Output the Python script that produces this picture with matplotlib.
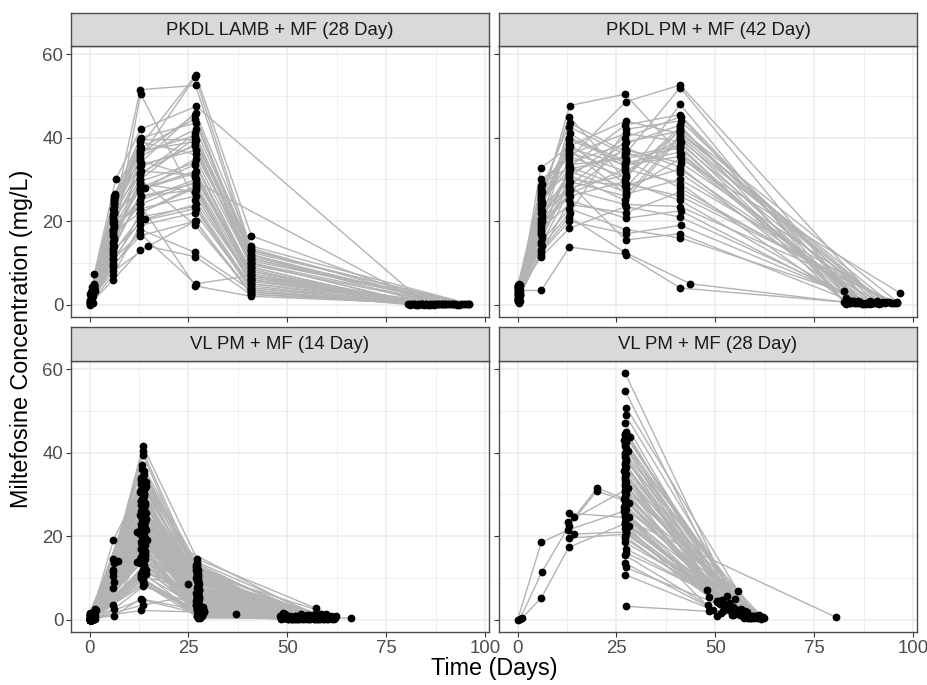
import matplotlib
matplotlib.use('Agg')
import matplotlib.pyplot as plt

plt.rcParams['font.family'] = ['Liberation Sans', 'DejaVu Sans']

N = None

panel_titles = ['PKDL LAMB + MF (28 Day)', 'PKDL PM + MF (42 Day)',
                'VL PM + MF (14 Day)', 'VL PM + MF (28 Day)']
x_ticks = [0, 25, 50, 75, 100]
y_ticks = [0, 20, 40, 60]
x_label = 'Time (Days)'
y_label = 'Miltefosine Concentration (mg/L)'

# ---- PKDL LAMB + MF (28 Day): one row per patient, visits ~0, 6, 13, 27, 41, end
lamb_time = [
    [0.2, 6.0, 12.8, 26.7, 40.8, 84], [0.4, 6.1, 12.8, 26.8, 40.9, 86],
    [0.6, 6.0, 12.9, 26.7, 40.8, 82], [1.0, 6.2, 12.8, 26.9, 40.9, 88],
    [0.8, 5.9, 12.7, 26.7, 40.8, 90], [1.2, 6.6, 12.9, 27.0, N, 85],
    [0.3, 6.0, 12.8, 26.8, 40.9, 81], [0.9, 6.1, 12.7, 26.7, 40.8, 92],
    [0.5, 6.0, 12.8, 26.8, 40.7, 83], [0.0, 6.0, 12.8, 26.7, 40.8, 87],
    [1.1, 6.2, 12.9, 26.8, 40.9, 94], [0.6, 6.0, 12.8, 26.7, 40.8, 81.5],
    [0.2, 6.1, 13.9, 26.8, 40.9, 89], [0.8, 6.0, 12.8, 26.7, 40.8, 95],
    [0.3, 5.9, 12.8, 26.7, 40.8, 82.5], [0.9, 6.0, 12.9, 26.8, 40.8, 86.5],
    [0.5, 6.1, 12.8, 26.7, 40.9, 91], [0.7, 6.0, 13.9, 26.8, 40.8, 83.5],
    [1.3, 6.2, 12.8, 26.7, 40.8, 88.5], [0.1, 6.0, 12.8, 26.8, 40.9, 84.5],
    [0.6, 6.1, 12.8, 26.7, 40.8, 93], [1.0, 6.3, 12.9, 26.8, 40.9, 96],
    [0.4, 6.0, 14.7, 26.7, 40.8, 85.5], [0.8, 6.1, 12.8, 26.8, 40.8, 90.5],
    [0.2, 6.0, 12.8, 26.7, 40.9, 87.5], [1.2, 6.1, 12.8, 26.8, 40.8, 92.5],
    [0.5, 6.0, 12.9, 26.7, 40.8, 80.5], [0.9, 6.0, 12.8, 26.8, 40.9, 89.5],
    [0.3, 6.1, 12.8, 26.7, 40.8, 86], [0.7, 6.0, 12.8, 26.8, 40.8, 94.5],
    [0.0, 5.9, 12.8, 26.7, 40.9, 83], [1.0, 6.1, 12.9, 26.8, 40.8, 91.5],
    [0.6, 6.0, 12.8, 26.7, 40.8, 84], [0.4, 6.1, 12.8, 26.8, N, 85],
    [1.1, 6.2, 12.8, 26.7, 40.9, 96], [0.2, 6.0, 12.9, 26.8, 40.8, 88],
    [0.8, 6.1, 12.8, 26.7, 40.8, 82], [0.5, 6.0, 12.8, 26.8, 40.9, 90],
    [0.9, 6.0, 12.8, 26.7, 40.8, 87], [0.3, 5.9, 12.8, 26.8, 40.8, 93.5],
    [0.7, 6.1, 12.9, 26.7, 40.9, 95.5], [0.4, 6.0, 12.8, 26.8, 40.8, 81],
    [1.0, 6.1, 12.8, 26.7, 40.8, 89], [0.6, 6.3, 12.8, 26.8, 40.9, 84],
    [0.1, 6.0, 12.8, 26.7, 40.8, 92],
]
lamb_conc = [
    [2.5, 20, 30, 40, 10, 0.1], [3.0, 22, 51.5, 52.5, 12, 0.2],
    [1.0, 15, 50.5, 25, 6, 0.1], [4.0, 25, 38, 55, 16.5, 0.2],
    [0.5, 12, 35, 54.5, 13.5, 0.1], [7.4, 30, 42, 47.5, N, 0.1],
    [2.0, 18, 25, 30, 8, 0.1], [3.5, 24, 36, 45.5, 11, 0.2],
    [1.5, 10, 22, 28, 5, 0.1], [0.0, 6, 13, 20, 3, 0.0],
    [4.5, 26, 40, 43.5, 13, 0.2], [2.8, 21, 33, 38, 9, 0.1],
    [1.2, 14, 28, 32, 7, 0.1], [3.8, 23, 31, 41, 10.5, 0.2],
    [0.8, 9, 18, 12.5, 3.5, 0.0], [2.2, 17, 26, 29, 6.5, 0.1],
    [4.2, 25.5, 37, 39, 12, 0.2], [1.8, 13, 20.5, 24, 4.5, 0.1],
    [3.3, 19, 29, 27, 6, 0.1], [0.3, 11, 17, 5, 7, 0.0],
    [2.6, 16, 24, 4.5, 2, 0.0], [5.0, 26, 34, 46, 14, 0.2],
    [1.4, 8, 14, 11.5, 2.5, 0.0], [3.1, 22.5, 27, 35, 9.5, 0.1],
    [0.6, 12.5, 21, 23.5, 4, 0.1], [4.8, 24.5, 39, 36, 11.5, 0.2],
    [2.1, 19.5, 32, 31, 8.5, 0.1], [3.6, 20.5, 23, 26, 5.5, 0.1],
    [1.1, 15.5, 30, 19, 3, 0.0], [2.9, 21.5, 35.5, 42, 13, 0.2],
    [0.2, 7, 19, 22, 4, 0.0], [3.9, 23.5, 33.5, 37, 10, 0.1],
    [1.6, 16.5, 28, 33.5, 7.5, 0.1], [2.4, 18.5, 24, 29.5, N, 0.1],
    [4.4, 25, 36.5, 40.5, 12.5, 0.2], [0.9, 13.5, 26, 27.5, 6, 0.1],
    [3.2, 20, 31.5, 38.5, 9, 0.1], [1.9, 17.5, 22, 28.5, 5, 0.1],
    [2.7, 14.5, 29.5, 34, 8, 0.1], [0.4, 9.5, 16.5, 20, 2.5, 0.0],
    [3.4, 22, 37.5, 44.5, 11, 0.2], [1.3, 11, 20, 23, 3.5, 0.0],
    [4.1, 24, 34.5, 30.5, 7, 0.1], [2.3, 26.5, 39.5, 39.5, 10, 0.1],
    [0.7, 18, 27.5, 31.5, 6.5, 0.1],
]

# ---- PKDL PM + MF (42 Day)
pm42_time = [
    [0.3, 6.0, 13.1, 27.4, 41.1, 84], [0.1, 5.9, 13.2, 27.2, 41.2, 88],
    [0.4, 6.0, 13.1, 27.3, 41.1, 91], [0.2, 6.1, 13.0, 27.2, 41.1, 86],
    [0.5, 5.9, 13.2, 27.3, 41.0, 94], [0.0, 6.0, 13.1, 27.2, 41.1, 83],
    [0.3, 6.1, 13.2, 27.4, 41.2, 89], [0.4, 5.9, 13.1, 27.2, 41.1, 82.6],
    [0.1, 6.0, 13.0, 27.3, 41.0, 92], [0.5, 6.0, 13.1, 27.2, 41.1, 85],
    [0.2, 6.1, 13.2, 27.3, 41.1, 96], [0.3, 5.8, 13.1, 27.4, 41.2, 87],
    [0.0, 6.0, 13.0, 27.2, 41.1, 90], [0.4, 6.1, 13.1, 27.3, 41.0, 83.5],
    [0.2, 5.9, 13.2, 27.2, 41.1, 93], [0.5, 6.0, 13.1, 27.3, 41.1, 88.5],
    [0.1, 6.1, 13.0, 27.2, 41.2, 84.5], [0.3, 5.9, 13.1, 27.4, 41.1, 95],
    [0.4, 6.0, 13.2, 27.2, 41.0, 86.5], [0.2, 6.0, 13.1, 27.3, 41.1, 91.5],
    [0.0, 6.1, 13.0, 27.2, 41.1, 82.8], [0.3, 5.9, 13.1, 27.3, 41.2, 96.7],
    [0.5, 6.0, 13.2, 27.4, 41.1, 89.5], [0.1, 6.0, 13.1, 27.2, 43.7, 85.5],
    [0.4, 6.1, 13.0, 27.3, 41.0, 92.5], [0.2, 5.9, 13.1, 27.2, 41.1, 87.5],
    [0.3, 6.0, 13.2, 27.3, 41.1, 94.5], [0.0, 6.0, 13.1, 27.4, 41.2, 83],
    [0.4, 6.1, 13.0, 27.2, 41.1, 90.5], [0.2, 5.9, 13.1, 27.3, 41.0, 85],
    [0.5, 6.0, 13.2, 27.2, 41.1, 96], [0.1, 6.0, 13.1, 27.3, 41.1, 88],
    [0.3, 6.1, 13.0, 27.4, 41.2, 93.5], [0.4, 5.9, 13.1, 27.2, 41.1, 84],
    [0.2, 6.0, 13.2, 27.3, 41.0, 91], [0.0, 6.0, 13.1, 27.2, 41.1, 86],
    [0.3, 6.1, 13.0, 27.3, 41.1, 95.5], [0.5, 5.9, 13.1, 27.4, 41.2, 89],
    [0.1, 6.0, 13.2, 27.2, 41.1, 82.5], [0.4, 6.0, 13.1, 27.3, 41.0, 92],
    [0.2, 6.1, 13.0, 27.2, 41.1, 87],
]
pm42_conc = [
    [3.4, 3.4, 13.8, 12.0, 4.0, 0.5], [2.0, 24.0, 47.7, 50.4, 36.0, 0.3],
    [1.5, 30.0, 35.0, 48.6, 52.6, 0.8], [4.5, 20.0, 42.6, 36.0, 52.0, 0.4],
    [2.8, 32.7, 38.0, 44.0, 41.0, 0.6], [1.0, 26.0, 45.0, 30.0, 48.0, 0.2],
    [3.0, 14.0, 22.0, 42.0, 44.0, 1.0], [5.0, 27.0, 31.0, 25.0, 40.0, 3.2],
    [2.2, 18.0, 40.0, 34.5, 28.0, 0.3], [0.8, 22.0, 27.0, 37.5, 33.0, 0.5],
    [3.8, 29.0, 33.0, 28.0, 42.0, 0.7], [1.8, 12.0, 25.0, 20.7, 22.5, 0.2],
    [4.2, 25.0, 36.5, 32.0, 38.5, 0.4], [2.5, 16.0, 29.0, 15.5, 17.0, 1.2],
    [1.2, 23.0, 41.0, 33.0, 39.5, 0.3], [3.6, 11.5, 18.3, 23.5, 21.0, 0.4],
    [0.9, 21.0, 30.5, 40.0, 45.0, 0.9], [2.9, 28.0, 37.0, 26.5, 30.0, 0.3],
    [4.0, 19.0, 26.0, 29.5, 25.0, 0.6], [1.6, 15.0, 23.0, 18.0, 16.0, 0.2],
    [3.2, 24.5, 34.0, 38.5, 43.0, 0.5], [2.1, 17.5, 32.0, 27.0, 35.0, 2.8],
    [4.8, 27.5, 43.5, 36.5, 31.5, 0.4], [1.3, 13.0, 21.0, 12.5, 5.0, 0.3],
    [3.5, 22.5, 28.0, 31.0, 41.5, 0.7], [2.6, 20.5, 39.5, 34.0, 36.5, 0.2],
    [0.5, 18.5, 24.0, 22.0, 27.0, 0.5], [4.4, 26.5, 36.0, 41.0, 39.0, 1.5],
    [1.9, 16.5, 30.0, 28.5, 32.5, 0.3], [3.1, 25.5, 33.5, 35.0, 37.5, 0.8],
    [2.4, 14.5, 27.5, 24.0, 23.5, 0.4], [4.6, 28.5, 35.5, 30.5, 42.5, 0.2],
    [1.1, 21.5, 31.5, 37.0, 34.0, 0.6], [3.3, 19.5, 26.5, 32.5, 29.0, 0.3],
    [2.7, 23.5, 29.5, 26.0, 40.5, 0.5], [1.4, 17.0, 33.0, 43.0, 45.5, 1.0],
    [3.9, 27.0, 38.5, 29.0, 26.0, 0.4], [2.3, 12.5, 20.0, 17.0, 19.0, 0.2],
    [4.1, 25.0, 32.5, 35.5, 38.0, 0.7], [0.7, 20.0, 28.5, 39.0, 41.5, 0.3],
    [3.7, 24.0, 37.5, 33.5, 35.5, 0.5],
]

# ---- VL PM + MF (14 Day): visits ~0, 6, 13, 27, follow-up
vl14_time = [
    [0.2, 6.0, 13.3, 27.0, 52], [1.2, 6.0, 13.5, 27.2, 57.3],
    [0.5, 6.1, 13.4, 27.3, 49], [0.0, 5.9, 13.5, 27.1, 55],
    [0.8, 6.0, 13.0, 27.4, 58], [1.4, 6.1, 12.0, 25.0, 50],
    [0.3, 6.0, 13.2, 27.6, 53], [0.1, 6.0, 12.0, 27.2, 60],
    [0.6, 6.1, 13.6, 28.8, 48.5], [0.0, 6.2, 13.0, 28.6, 51],
    [1.0, 7.2, 13.8, 27.0, 54], [0.4, 6.0, 13.4, 27.5, 56],
    [0.2, N, 13.2, 27.0, 49.5], [1.1, N, 13.6, 27.3, 55.5],
    [0.5, N, 13.0, 27.1, 58.5], [0.0, N, 14.2, 27.4, 50.5],
    [1.3, N, 13.4, 27.2, 61], [0.7, N, 12.8, 27.5, 52.5],
    [0.0, N, 13.8, 27.1, 56.5], [1.0, N, 13.3, 27.3, 48.2],
    [0.3, N, 14.0, 27.2, 59.5], [0.9, N, 13.1, 27.6, 53.5],
    [0.0, N, 13.7, 27.0, 57], [1.2, N, 12.9, 27.4, 50],
    [0.4, N, 14.3, 27.2, 62], [0.0, N, 13.5, 27.3, 54.5],
    [0.8, N, 13.2, 27.1, 49], [0.5, N, 13.9, 27.5, 58],
    [0.0, N, 13.0, 28.7, 51.5], [1.4, N, 13.6, 27.2, 55],
    [0.6, N, 14.1, 27.3, 60.5], [0.1, N, 13.3, 28.9, 52],
    [1.0, N, 12.7, 27.4, 56], [0.0, N, 13.8, 27.1, 48.8],
    [0.5, N, 13.4, N, 59], [1.3, N, 14.4, 27.5, 53],
    [0.2, N, 13.1, 27.2, 57.5], [0.0, N, 13.6, N, 50.2],
    [0.9, N, 12.9, 27.3, 61.5], [0.3, N, 14.0, 27.6, 54],
    [0.0, N, 13.5, N, 58.2], [1.1, N, 13.2, 27.2, 49.8],
    [0.4, N, 13.9, 27.4, 55.8], [0.0, N, 12.8, N, 60.2],
    [0.7, N, 13.7, 27.1, 52.8], [0.1, N, 13.3, 27.8, 57.8],
    [1.2, N, 14.2, N, 51.2], [0.0, N, 13.0, 27.3, 56.2],
    [0.6, N, 13.6, 27.5, 48.4], [0.0, N, 13.4, 27.3, 59.8],
    [0.4, N, 13.1, 28.9, 53.8], [1.0, N, 13.8, 27.2, 62.2],
    [0.0, N, 13.4, 27.1, 50.8], [0.3, N, 13.0, 27.4, 55.2],
    [1.5, N, 14.1, 27.2, 58.8], [0.2, N, 13.5, 27.3, 52.2],
    [0.0, N, 12.9, 27.1, 57.2], [0.8, N, 13.7, 27.5, 49.2],
    [0.5, N, 13.2, 27.2, 60.8], [0.0, N, 14.3, 27.4, 54.8],
    [1.2, N, 13.6, 27.1, 51.8], [0.2, N, 13.0, 28.4, 56.8],
    [0.0, N, 13.9, 27.3, 48.6], [0.7, N, 13.3, N, 59.2],
    [0.4, N, 14.0, 27.6, 53.2], [0.0, N, 12.7, N, 61.2],
    [1.0, N, 13.5, 37.0, 50.6], [0.2, N, 13.1, N, 55.6],
    [0.0, N, 13.8, 27.5, 66.0], [0.6, N, 13.4, 27.2, 58.6],
    [0.0, N, 13.2, 28.5, 52.6],
    [0.3, N, 13.3, 27.1, 53.4], [0.9, N, 13.7, 27.4, 57.4],
    [0.1, N, 13.1, 27.2, 50.4], [1.3, N, 14.2, 27.0, 55.4],
    [0.5, N, 13.5, 27.5, 59.4], [0.0, N, 12.9, 27.3, 52.4],
    [0.8, N, 13.8, 27.1, 56.4], [0.2, N, 13.4, 27.6, 61.4],
    [1.1, N, 13.0, 27.2, 49.4], [0.4, N, 14.1, 27.4, 54.4],
    [0.0, N, 13.6, 27.0, 58.4], [0.7, N, 13.2, 27.3, 51.4],
    [1.2, N, 13.9, 27.5, 56.9], [0.3, N, 12.8, 27.1, 60.4],
    [0.0, N, 13.5, 27.4, 53.9], [0.9, N, 14.0, 27.2, 48.9],
    [0.5, N, 13.3, 27.6, 57.9], [0.1, N, 13.7, 27.0, 52.9],
    [1.4, N, 13.0, 27.3, 55.9], [0.2, N, 14.3, 28.6, 59.9],
    [0.6, N, 13.4, 27.1, 50.9], [0.0, N, 12.9, 27.5, 54.9],
    [1.0, N, 13.8, 27.2, 61.9], [0.4, N, 13.2, 27.4, 49.9],
    [0.0, N, 13.6, 28.8, 58.9], [0.8, N, 14.1, 27.1, 53.1],
    [0.3, N, 13.0, 27.3, 57.1], [1.2, N, 13.5, 27.6, 51.1],
    [0.0, N, 13.9, 27.2, 55.1], [0.6, N, 13.3, 27.0, 60.1],
    [0.1, N, 12.7, 27.4, 48.7], [1.1, N, 13.7, 27.2, 56.1],
    [0.4, N, 14.2, 28.3, 52.1], [0.0, N, 13.1, 27.5, 58.1],
    [0.9, N, 13.6, 27.1, 54.1], [0.2, N, 13.4, 27.3, 61.1],
    [0.5, N, 13.8, 28.0, 50.1], [0.0, N, 13.2, N, 57.6],
    [0.7, N, 13.5, N, 53.6], [0.3, N, 13.0, N, 59.6],
]
vl14_conc = [
    [0.0, 19.0, 33.0, 12.5, 1.0], [1.5, 14.5, 41.5, 14.5, 2.7],
    [0.5, 13.5, 40.5, 11.0, 1.5], [0.2, 12.0, 39.5, 10.0, 1.2],
    [1.0, 10.5, 25.0, 9.0, 0.8], [2.5, 9.0, 21.0, 8.5, 0.6],
    [0.3, 7.5, 18.0, 7.0, 0.5], [0.0, 3.5, 13.8, 5.0, 0.4],
    [0.8, 2.5, 8.0, 3.0, 0.3], [0.1, 1.0, 5.0, 2.0, 0.2],
    [1.8, 14.0, 30.0, 6.5, 1.0], [0.6, 11.5, 27.0, 4.0, 0.7],
    [0.0, N, 36.0, 12.0, 1.3], [1.2, N, 34.0, 10.5, 0.9],
    [0.4, N, 33.5, 9.5, 1.1], [0.0, N, 32.0, 8.0, 0.5],
    [2.0, N, 31.0, 7.5, 0.8], [0.7, N, 30.5, 6.0, 0.6],
    [0.0, N, 29.5, 6.0, 0.4], [1.4, N, 29.0, 5.5, 0.9],
    [0.2, N, 28.0, 3.5, 0.3], [0.9, N, 27.5, 5.0, 0.7],
    [0.0, N, 26.5, 4.5, 0.2], [1.6, N, 26.0, 9.0, 1.0],
    [0.3, N, 25.5, 2.5, 0.5], [0.0, N, 24.5, 4.0, 0.3],
    [1.1, N, 24.0, 3.5, 0.6], [0.5, N, 23.5, 8.0, 0.8],
    [0.0, N, 23.0, 1.5, 0.1], [2.2, N, 22.5, 3.0, 0.4],
    [0.8, N, 22.0, 6.5, 0.7], [0.1, N, 21.5, 2.0, 0.2],
    [1.3, N, 20.5, 2.5, 0.5], [0.0, N, 20.0, 5.5, 0.3],
    [0.6, N, 19.5, N, 0.6], [1.9, N, 19.0, 4.0, 0.4],
    [0.2, N, 18.5, 2.0, 0.1], [0.0, N, 17.5, N, 0.2],
    [1.0, N, 17.0, 3.5, 0.5], [0.4, N, 16.5, 1.5, 0.3],
    [0.0, N, 16.0, N, 0.1], [1.7, N, 15.0, 3.0, 0.6],
    [0.3, N, 14.5, 1.0, 0.2], [0.0, N, 13.5, N, 0.4],
    [0.9, N, 12.5, 2.5, 0.3], [0.1, N, 11.5, 0.5, 0.1],
    [1.5, N, 11.0, N, 0.2], [0.0, N, 10.0, 2.0, 0.3],
    [0.7, N, 9.0, 1.5, 0.1], [0.0, N, 3.5, 6.0, 1.3],
    [0.5, N, 2.2, 1.8, 0.2], [1.2, N, 35.0, 11.5, 0.9],
    [0.0, N, 34.5, 13.0, 1.0], [0.4, N, 32.5, 9.0, 0.7],
    [2.3, N, 31.5, 10.0, 0.5], [0.2, N, 30.0, 7.0, 0.8],
    [0.0, N, 28.5, 10.5, 1.1], [1.1, N, 27.0, 5.0, 0.4],
    [0.6, N, 25.0, 6.0, 0.6], [0.0, N, 24.0, 3.0, 0.3],
    [1.8, N, 22.5, 5.0, 0.5], [0.3, N, 21.0, 1.0, 0.2],
    [0.0, N, 19.5, 4.5, 0.4], [1.0, N, 18.0, N, 0.1],
    [0.5, N, 15.5, 3.5, 0.3], [0.0, N, 14.0, N, 0.2],
    [1.4, N, 12.0, 1.3, 0.4], [0.2, N, 10.5, N, 0.1],
    [0.0, N, 8.5, 0.5, 0.4], [0.8, N, 26.0, 11.0, 0.6],
    [0.0, N, 4.8, 1.2, 0.2],
    [0.0, N, 37.0, 13.5, 1.4], [0.6, N, 35.5, 12.0, 1.0],
    [1.0, N, 34.0, 11.5, 0.6], [0.2, N, 33.0, 13.0, 1.2],
    [0.0, N, 32.0, 10.0, 0.9], [1.6, N, 31.0, 9.5, 0.4],
    [0.3, N, 30.0, 12.5, 1.1], [0.0, N, 29.0, 8.5, 0.7],
    [0.8, N, 28.5, 11.0, 0.5], [0.1, N, 27.5, 7.5, 0.8],
    [1.3, N, 26.5, 10.0, 1.3], [0.0, N, 26.0, 6.5, 0.3],
    [0.5, N, 25.5, 9.0, 0.9], [0.2, N, 25.0, 5.5, 0.2],
    [0.0, N, 24.5, 8.0, 0.6], [1.1, N, 24.0, 4.5, 0.4],
    [0.4, N, 23.0, 7.0, 1.0], [0.0, N, 22.5, 3.5, 0.1],
    [0.9, N, 22.0, 6.0, 0.5], [0.1, N, 21.5, 2.5, 0.3],
    [0.0, N, 21.0, 5.0, 0.7], [1.4, N, 20.5, 8.5, 0.9],
    [0.3, N, 20.0, 3.0, 0.2], [0.0, N, 19.0, 6.5, 0.6],
    [0.7, N, 18.5, 1.5, 0.1], [0.2, N, 18.0, 4.5, 0.4],
    [0.0, N, 17.0, 2.0, 0.3], [1.0, N, 16.5, 5.5, 0.5],
    [0.5, N, 16.0, 1.0, 0.2], [0.0, N, 15.5, 3.5, 0.1],
    [0.8, N, 14.5, 2.5, 0.4], [0.1, N, 13.0, 4.0, 0.3],
    [0.0, N, 12.0, 1.5, 0.2], [1.2, N, 11.0, 3.0, 0.6],
    [0.3, N, 10.0, 0.8, 0.1], [0.0, N, 9.5, 2.0, 0.3],
    [0.6, N, 8.5, 1.2, 0.2], [0.0, N, 22.0, N, 0.5],
    [0.4, N, 18.0, N, 0.3], [0.0, N, 15.0, N, 0.6],
]

# ---- VL PM + MF (28 Day): visits ~0, 6, 13, 20, 27, follow-up
vl28_time = [
    [0.0, 6.0, 12.8, N, 27.0, 52.0], [0.6, 6.1, 13.0, 20.0, 27.2, 55.0],
    [1.1, 6.0, 12.9, N, 27.1, 50.5], [N, N, 14.3, 20.1, 27.0, 53.0],
    [N, N, 14.3, N, 27.3, 57.0], [N, N, 12.9, N, 27.2, 54.2],
    [N, N, 12.9, N, 27.4, 58.2], [N, N, 12.8, N, 27.1, 51.8],
    [N, N, N, N, 27.2, 56.0], [N, N, N, N, 27.2, 55.0],
    [N, N, N, N, 27.5, 55.7], [N, N, N, N, 27.3, 58.0],
    [N, N, N, N, 27.2, 54.5], [N, N, N, N, 27.1, 57.5],
    [N, N, N, N, 28.3, 53.5], [N, N, N, N, 27.0, 59.0],
    [N, N, N, N, 27.2, 56.5], [N, N, N, N, 27.3, 53.0],
    [N, N, N, N, 27.1, 60.0], [N, N, N, N, 27.2, 52.0],
    [N, N, N, N, 27.4, 61.0], [N, N, N, N, 27.1, 55.5],
    [N, N, N, N, 27.2, 58.5], [N, N, N, N, 27.0, 51.0],
    [N, N, N, N, 27.3, 57.0], [N, N, N, N, 27.1, 62.0],
    [N, N, N, N, 27.2, 54.0], [N, N, N, N, 27.4, 59.5],
    [N, N, N, N, 27.1, 55.0], [N, N, N, N, 28.0, 60.5],
    [N, N, N, N, 27.2, 53.5], [N, N, N, N, 27.3, 56.0],
    [N, N, N, N, 27.1, 61.5], [N, N, N, N, 28.2, 52.5],
    [N, N, N, N, 27.2, 57.5], [N, N, N, N, 27.0, 58.0],
    [N, N, N, N, 27.3, 62.2], [N, N, N, N, 27.1, 50.5],
    [N, N, N, N, 27.2, 54.5], [N, N, N, N, 27.3, 80.5],
    [N, N, N, N, 27.1, 56.5], [N, N, N, N, 28.1, 59.0],
    [N, N, N, N, 27.2, 48.0], [N, N, N, N, 27.3, 55.0],
    [N, N, N, N, 27.1, 48.5], [N, N, N, N, 27.2, 60.0],
    [N, N, N, N, 27.4, 57.0], [N, N, N, N, 27.1, 48.2],
    [N, N, N, N, 27.2, 51.5], [N, N, N, N, 27.3, 58.5],
    [N, N, N, N, 27.1, 49.5], [N, N, N, N, 27.4, 48.3],
    [N, N, N, N, 27.3, 56.3], [N, N, N, N, 27.1, 58.8],
    [N, N, N, N, 27.4, 53.3], [N, N, N, N, 27.2, 60.3],
    [N, N, N, N, 28.0, 51.3], [N, N, N, N, 27.1, 57.3],
    [N, N, N, N, 27.3, 55.3], [N, N, N, N, 27.2, 52.8],
    [N, N, N, N, 27.5, 59.3], [N, N, N, N, 27.1, 54.8],
    [N, N, N, N, 27.2, 50.3], [N, N, N, N, 27.4, 61.3],
    [N, N, N, N, 27.1, 56.8], [N, N, N, N, 27.3, 58.3],
    [N, N, N, N, 27.2, 52.3], [N, N, N, N, 28.1, 59.8],
    [N, N, N, N, 27.2, 55.8], [N, N, N, N, 27.3, 57.8],
    [N, N, N, N, 27.1, 53.8], [N, N, N, N, 27.4, 60.8],
]
vl28_conc = [
    [0.0, 18.5, 21.5, N, 26.0, 2.0], [0.2, 11.3, 22.5, 30.8, 28.5, 1.5],
    [0.4, 5.2, 17.3, N, 23.0, 1.0], [N, N, 24.5, 31.5, 29.0, 3.0],
    [N, N, 20.5, N, 21.0, 0.8], [N, N, 25.5, N, 24.5, 1.2],
    [N, N, 19.5, N, 20.5, 0.5], [N, N, 23.5, N, 31.0, 4.8],
    [N, N, N, N, 59.0, 1.5], [N, N, N, N, 54.8, 2.5],
    [N, N, N, N, 50.8, 6.9], [N, N, N, N, 49.0, 1.0],
    [N, N, N, N, 47.0, 3.0], [N, N, N, N, 44.2, 2.0],
    [N, N, N, N, 43.8, 4.0], [N, N, N, N, 43.0, 0.5],
    [N, N, N, N, 42.0, 1.8], [N, N, N, N, 41.0, 5.6],
    [N, N, N, N, 40.0, 0.8], [N, N, N, N, 39.0, 3.5],
    [N, N, N, N, 38.0, 1.2], [N, N, N, N, 37.0, 2.2],
    [N, N, N, N, 36.0, 0.3], [N, N, N, N, 35.5, 4.5],
    [N, N, N, N, 35.0, 1.6], [N, N, N, N, 34.0, 0.6],
    [N, N, N, N, 33.5, 2.8], [N, N, N, N, 33.0, 1.0],
    [N, N, N, N, 32.0, 5.0], [N, N, N, N, 31.5, 0.4],
    [N, N, N, N, 30.5, 2.4], [N, N, N, N, 30.0, 1.4],
    [N, N, N, N, 29.5, 0.2], [N, N, N, N, 28.0, 3.2],
    [N, N, N, N, 27.5, 0.9], [N, N, N, N, 27.0, 1.9],
    [N, N, N, N, 26.5, 0.5], [N, N, N, N, 25.5, 4.2],
    [N, N, N, N, 25.0, 1.1], [N, N, N, N, 24.0, 0.6],
    [N, N, N, N, 23.5, 2.6], [N, N, N, N, 22.5, 0.3],
    [N, N, N, N, 22.0, 7.0], [N, N, N, N, 21.0, 1.3],
    [N, N, N, N, 20.0, 5.4], [N, N, N, N, 18.5, 0.7],
    [N, N, N, N, 17.0, 2.0], [N, N, N, N, 15.5, 3.4],
    [N, N, N, N, 13.5, 1.5], [N, N, N, N, 12.5, 0.8],
    [N, N, N, N, 10.8, 2.3], [N, N, N, N, 3.2, 2.0],
    [N, N, N, N, 45.0, 1.2], [N, N, N, N, 44.5, 0.7],
    [N, N, N, N, 42.5, 2.6], [N, N, N, N, 41.5, 1.0],
    [N, N, N, N, 40.5, 3.8], [N, N, N, N, 39.5, 0.4],
    [N, N, N, N, 38.5, 1.7], [N, N, N, N, 37.5, 2.9],
    [N, N, N, N, 36.5, 0.9], [N, N, N, N, 34.5, 1.4],
    [N, N, N, N, 32.5, 4.4], [N, N, N, N, 31.0, 0.6],
    [N, N, N, N, 29.0, 2.1], [N, N, N, N, 28.5, 1.1],
    [N, N, N, N, 26.0, 3.6], [N, N, N, N, 24.5, 0.5],
    [N, N, N, N, 23.0, 1.8], [N, N, N, N, 21.5, 0.8],
    [N, N, N, N, 19.5, 2.7], [N, N, N, N, 16.0, 1.0],
]

panel_times = [lamb_time, pm42_time, vl14_time, vl28_time]
panel_concs = [lamb_conc, pm42_conc, vl14_conc, vl28_conc]

W, H = 928, 685
fig = plt.figure(figsize=(W / 100, H / 100), dpi=100)

# panel boxes in pixels: left, right / strip top, strip bottom, plot bottom
cols = [(71, 489), (499, 917)]
rows = [(13, 46, 317), (327, 361, 632)]

line_col = '#B3B3B3'
grid_col = '#EBEBEB'
border_col = '#4D4D4D'

for k in range(4):
    r, c = divmod(k, 2)
    x0, x1 = cols[c]
    s0, s1, p1 = rows[r]
    ax = fig.add_axes([x0 / W, 1 - p1 / H, (x1 - x0) / W, (p1 - s1) / H])
    sx = fig.add_axes([x0 / W, 1 - s1 / H, (x1 - x0) / W, (s1 - s0) / H])

    # lines first, then points on top (as geom_line + geom_point)
    for t_row, c_row in zip(panel_times[k], panel_concs[k]):
        xs = [t for t, v in zip(t_row, c_row) if v is not None]
        ys = [v for v in c_row if v is not None]
        ax.plot(xs, ys, color=line_col, lw=1.0, zorder=2, solid_capstyle='round')
    for t_row, c_row in zip(panel_times[k], panel_concs[k]):
        xs = [t for t, v in zip(t_row, c_row) if v is not None]
        ys = [v for v in c_row if v is not None]
        ax.plot(xs, ys, 'o', color='black', ms=5.6, mew=0, zorder=3)

    ax.set_xlim(-4.7, 101)
    ax.set_ylim(-2.95, 61.95)
    ax.set_xticks(x_ticks)
    ax.set_yticks(y_ticks)
    ax.set_xticks([12.5, 37.5, 62.5, 87.5], minor=True)
    ax.set_yticks([10, 30, 50], minor=True)
    ax.grid(True, which='major', color=grid_col, lw=1.1, zorder=0)
    ax.grid(True, which='minor', color=grid_col, lw=0.55, zorder=0)
    ax.set_axisbelow(True)
    ax.tick_params(which='minor', length=0)
    ax.tick_params(which='major', length=3.5, width=0.8, color='#333333',
                   labelsize=13.4, labelcolor='#4D4D4D', pad=2)
    if r == 0:
        ax.tick_params(axis='x', labelbottom=False)
    if c == 1:
        ax.tick_params(axis='y', labelleft=False)
    for sp in ax.spines.values():
        sp.set_color(border_col)
        sp.set_linewidth(1.0)

    sx.set_facecolor('#D9D9D9')
    sx.set_xticks([])
    sx.set_yticks([])
    for sp in sx.spines.values():
        sp.set_color(border_col)
        sp.set_linewidth(1.0)
    sx.text(0.5, 0.48, panel_titles[k], ha='center', va='center',
            fontsize=13.4, color='#1A1A1A', transform=sx.transAxes)

fig.text(494 / W, 1 - 668 / H, x_label, ha='center', va='center', fontsize=16.8, color='black')
fig.text(22 / W, 1 - 339 / H, y_label, ha='center', va='center', rotation=90,
         fontsize=16.8, color='black')

fig.savefig('out.png', dpi=100)
